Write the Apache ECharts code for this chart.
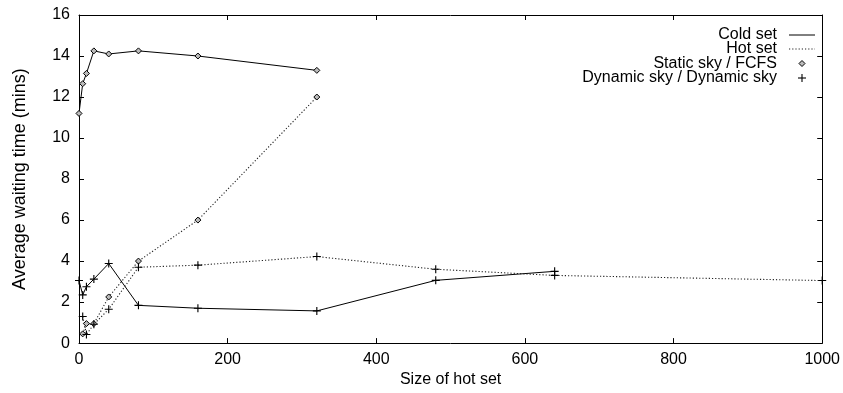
<!DOCTYPE html>
<html>
<head>
<meta charset="utf-8">
<script src="https://cdn.jsdelivr.net/npm/echarts@6/dist/echarts.min.js"></script>
<style>
html,body{margin:0;padding:0;background:#fff;}
#chart{width:843px;height:393px;}
</style>
</head>
<body>
<div id="chart"></div>
<script>
// ---- data ----
const xTicks = [0, 200, 400, 600, 800, 1000];
const yTicks = [0, 2, 4, 6, 8, 10, 12, 14, 16];

const coldStaticX = [0, 5, 10, 20, 40, 80, 160, 320];
const coldStaticY = [11.2, 12.65, 13.15, 14.25, 14.1, 14.25, 14.0, 13.3];

const hotStaticX = [5, 10, 20, 40, 80, 160, 320];
const hotStaticY = [0.45, 0.95, 0.95, 2.25, 4.0, 6.0, 12.0];

const coldDynamicX = [0, 5, 10, 20, 40, 80, 160, 320, 480, 640];
const coldDynamicY = [3.05, 2.35, 2.75, 3.12, 3.88, 1.84, 1.7, 1.57, 3.06, 3.5];

const hotDynamicX = [5, 10, 20, 40, 80, 160, 320, 480, 640, 1000];
const hotDynamicY = [1.3, 0.42, 0.92, 1.65, 3.7, 3.8, 4.22, 3.6, 3.3, 3.05];

const legendNames = ["Cold set", "Hot set", "Static sky / FCFS", "Dynamic sky / Dynamic sky"];
const xName = "Size of hot set";
const yName = "Average waiting time (mins)";

// ---- build ----
const zip = (xs, ys) => xs.map((x, i) => [x, ys[i]]);
const FONT = "Liberation Sans, Arial, Helvetica, sans-serif";
const PLUS = 'path://M-1,-0.14H1V0.14H-1Z M-0.14,-1H0.14V1H-0.14Z';
const solid = {color: '#000', width: 1, type: 'solid'};
const dotted = {color: '#222', width: 1.1, type: [1.2, 2]};
const diamondStyle = {color: '#bbb', borderColor: '#000', borderWidth: 1};
const plusStyle = {color: '#000', borderWidth: 0};

const chart = echarts.init(document.getElementById('chart'), null, {renderer: 'canvas'});

const axisCommon = {
  type: 'value',
  axisLine: {show: true, onZero: false, lineStyle: {color: '#000', width: 1}},
  axisTick: {show: true, inside: true, length: 5, lineStyle: {color: '#000', width: 1}},
  splitLine: {show: false},
};

// legend key (graphic)
const LEG_RIGHT = 777, LEG_X1 = 789, LEG_X2 = 815, LEG_MX = 802;
const legRows = [35, 49, 63.5, 78];
const legendGraphics = [];
legendNames.forEach((n, i) => {
  legendGraphics.push({type: 'text', x: LEG_RIGHT, y: legRows[i],
    style: {text: n, fill: '#000', font: '16px ' + FONT, textAlign: 'right', textVerticalAlign: 'middle'}});
});
legendGraphics.push({type: 'line', shape: {x1: LEG_X1, y1: legRows[0], x2: LEG_X2, y2: legRows[0]},
  style: {stroke: '#000', lineWidth: 1}});
legendGraphics.push({type: 'line', shape: {x1: LEG_X1, y1: legRows[1], x2: LEG_X2, y2: legRows[1]},
  style: {stroke: '#222', lineWidth: 1.1, lineDash: [1.2, 2]}});
legendGraphics.push({type: 'polygon', shape: {points: [[LEG_MX, legRows[2] - 3], [LEG_MX + 3, legRows[2]], [LEG_MX, legRows[2] + 3], [LEG_MX - 3, legRows[2]]]},
  style: {fill: '#bbb', stroke: '#000', lineWidth: 1}});
legendGraphics.push({type: 'line', shape: {x1: LEG_MX - 4, y1: legRows[3], x2: LEG_MX + 4, y2: legRows[3]},
  style: {stroke: '#000', lineWidth: 1.1}});
legendGraphics.push({type: 'line', shape: {x1: LEG_MX, y1: legRows[3] - 4, x2: LEG_MX, y2: legRows[3] + 4},
  style: {stroke: '#000', lineWidth: 1.1}});

chart.setOption({
  animation: false,
  backgroundColor: '#fff',
  grid: {left: 79, right: 20, top: 15, bottom: 42},
  xAxis: [
    Object.assign({}, axisCommon, {
      min: 0, max: 1000, interval: 200, position: 'bottom',
      name: xName, nameLocation: 'middle', nameGap: 24,
      nameTextStyle: {fontFamily: FONT, fontSize: 16, color: '#000'},
      axisLabel: {fontFamily: FONT, fontSize: 16, color: '#000', margin: 8,
        formatter: v => xTicks.includes(v) ? String(v) : ''}
    }),
    Object.assign({}, axisCommon, {
      min: 0, max: 1000, interval: 200, position: 'top', axisLabel: {show: false}
    })
  ],
  yAxis: [
    Object.assign({}, axisCommon, {
      min: 0, max: 16, interval: 2, position: 'left',
      name: yName, nameLocation: 'middle', nameGap: 50, nameRotate: 90,
      nameTextStyle: {fontFamily: FONT, fontSize: 18, color: '#000'},
      axisLabel: {fontFamily: FONT, fontSize: 16, color: '#000', margin: 9,
        formatter: v => yTicks.includes(v) ? String(v) : ''}
    }),
    Object.assign({}, axisCommon, {
      min: 0, max: 16, interval: 2, position: 'right', axisLabel: {show: false}
    })
  ],
  graphic: legendGraphics,
  series: [
    {name: 'Cold set · Static sky / FCFS', type: 'line', data: zip(coldStaticX, coldStaticY),
      lineStyle: solid, symbol: 'diamond', symbolSize: 6, itemStyle: diamondStyle, z: 3},
    {name: 'Hot set · Static sky / FCFS', type: 'line', data: zip(hotStaticX, hotStaticY),
      lineStyle: dotted, symbol: 'diamond', symbolSize: 6, itemStyle: diamondStyle, z: 3},
    {name: 'Cold set · Dynamic sky', type: 'line', data: zip(coldDynamicX, coldDynamicY),
      lineStyle: solid, symbol: PLUS, symbolSize: 8, itemStyle: plusStyle, z: 3},
    {name: 'Hot set · Dynamic sky', type: 'line', data: zip(hotDynamicX, hotDynamicY),
      lineStyle: dotted, symbol: PLUS, symbolSize: 8, itemStyle: plusStyle, z: 3}
  ]
});
</script>
</body>
</html>
